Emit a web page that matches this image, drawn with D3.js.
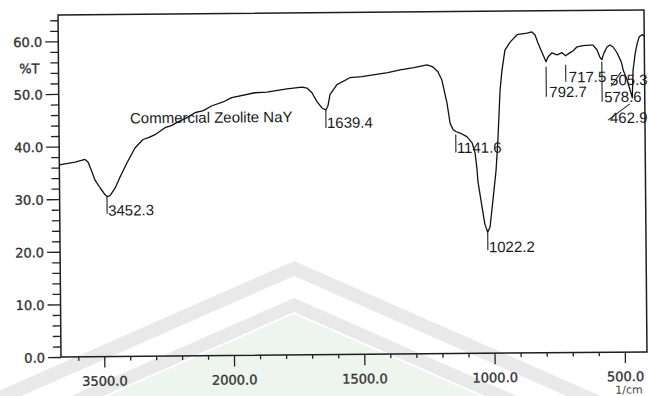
<!DOCTYPE html>
<html>
<head>
<meta charset="utf-8">
<script src="https://cdn.jsdelivr.net/npm/d3@7"></script>
<style>
  html, body { margin: 0; padding: 0; background: #fff; }
  svg { display: block; }
</style>
</head>
<body>
<svg id="chart" width="649" height="396"></svg>
<script>
// FTIR transmittance spectrum of commercial zeolite NaY (Shimadzu-style printout)

// Wavenumbers (1/cm), high to low
const wavenumber = [
  4000, 3900, 3818, 3703, 3668, 3623, 3590, 3532, 3475, 3452.3, 3417, 3358, 3299, 3217,
  3124, 3030, 2960, 2891, 2775, 2700, 2624, 2530, 2427, 2330, 2229, 2100, 2000,
  1911, 1865, 1788, 1730, 1711, 1692, 1673, 1654, 1639.4, 1631, 1623, 1596, 1546,
  1500, 1457, 1400, 1353, 1300, 1250, 1227, 1208, 1193, 1174, 1163, 1152, 1141.6,
  1125, 1099, 1079, 1068, 1061, 1058, 1043, 1033, 1022.2, 1013, 1001, 988, 980, 974,
  970, 962, 950, 930, 903, 865, 846, 834, 823, 807, 792.7, 785, 770, 750, 731, 717.5,
  700, 689, 673, 650, 624, 612, 597, 586, 578.6, 570, 558, 547, 535, 520, 505.3, 501,
  497, 482, 471, 462.9, 459, 450, 442, 434, 423, 415
];

// Transmittance (%T) at each wavenumber
const transmittance = [
  36.5, 36.8, 37.0, 37.5, 37.0, 35.1, 33.6, 32.1, 30.8, 30.4, 30.6, 32.0, 34.1, 36.8,
  39.6, 41.2, 41.6, 42.1, 43.4, 43.8, 44.5, 45.2, 46.2, 46.6, 47.5, 48.2, 49.0,
  49.9, 50.0, 50.6, 50.9, 50.7, 49.8, 48.1, 46.9, 46.5, 47.3, 49.4, 51.3, 52.6,
  52.8, 53.1, 53.5, 54.0, 54.4, 54.9, 54.5, 53.6, 52.0, 47.6, 43.8, 42.6, 42.2,
  41.9, 41.2, 40.0, 38.1, 34.9, 32.7, 27.8, 24.6, 23.0, 24.0, 29.1, 34.8, 40.5, 46.2,
  50.0, 53.8, 57.6, 59.1, 60.5, 60.8, 61.0, 60.4, 58.9, 57.0, 55.3, 56.2, 57.0, 56.6, 57.0, 56.4,
  57.0, 57.3, 58.1, 58.3, 58.4, 58.4, 57.5, 56.1, 55.6, 56.9, 58.0, 58.4, 58.0, 56.9, 55.3, 54.6,
  53.6, 51.7, 49.8, 48.3, 53.6, 56.8, 58.7, 59.9, 60.3, 60.0
];

// Picked peaks
const peakWavenumbers = [3452.3, 1639.4, 1141.6, 1022.2, 792.7, 717.5, 578.6, 505.3, 462.9];
const peakLabels = ["3452.3", "1639.4", "1141.6", "1022.2", "792.7", "717.5", "578.6", "505.3", "462.9"];

// Axis ticks
const xMajorTicks = [3500, 2000, 1500, 1000, 500];
const xMinorTicks = [3800, 3200, 2900, 2600, 2300,
  1900, 1800, 1700, 1600, 1400, 1300, 1200, 1100, 900, 800, 700, 600];
const yMajorTicks = [0, 10, 20, 30, 40, 50, 60];
const yMinorTicks = [2, 4, 6, 8, 12, 14, 16, 18, 22, 24, 26, 28, 32, 34, 36, 38,
  42, 44, 46, 48, 52, 54, 56, 58, 62, 64];

const sampleName = "Commercial Zeolite NaY";
const yAxisTitle = "%T";
const xAxisUnit = "1/cm";

// ---- layout ----
const plotLeft = 61, plotRight = 647, plotTop = 15, plotBottom = 357;
const tickFont = "'DejaVu Sans', sans-serif";
const labelFont = "'Liberation Sans', Arial, sans-serif";

// Wavenumber axis: 4000-2000 region drawn at compressed scale
const x = d3.scaleLinear().domain([4000, 2000, 415]).range([plotLeft, 234, plotRight]);
const y = d3.scaleLinear().domain([0, 65]).range([plotBottom, plotTop]);

const svg = d3.select("#chart");

// faint letterhead watermark behind the printout
const wm = svg.append("g");
const cx = 294, slope = 0.44;
function chevron(apexY, thick) {
  const l = -60, r = 720;
  return [
    [l, apexY + slope * (cx - l)], [cx, apexY], [r, apexY + slope * (r - cx)],
    [r, apexY + thick + slope * (r - cx)], [cx, apexY + thick], [l, apexY + thick + slope * (cx - l)]
  ];
}
wm.append("polygon")
  .attr("points", [[-60, 314 + slope * (cx + 60)], [cx, 314], [720, 314 + slope * (720 - cx)], [720, 500], [-60, 500]].join(" "))
  .attr("fill", "#eef5ee");
wm.append("polygon").attr("points", chevron(261, 15).join(" ")).attr("fill", "#e8e9e8");
wm.append("polygon").attr("points", chevron(298, 14).join(" ")).attr("fill", "#e8e9e8");

// printed chart (scan sits slightly tilted on the page)
const g = svg.append("g").attr("transform", `rotate(-0.5 ${plotLeft} ${plotBottom})`);

// plot frame
g.append("rect")
  .attr("x", plotLeft).attr("y", plotTop)
  .attr("width", plotRight - plotLeft).attr("height", plotBottom - plotTop)
  .attr("fill", "none").attr("stroke", "#1e1e1e").attr("stroke-width", 1.5);

// x axis: major ticks with labels, minor ticks
const fmt = d3.format(".1f");
const xAxisMajor = g.append("g").attr("transform", `translate(0,${plotBottom})`)
  .call(d3.axisBottom(x).tickValues(xMajorTicks).tickSize(11).tickFormat(fmt));
const xAxisMinor = g.append("g").attr("transform", `translate(0,${plotBottom})`)
  .call(d3.axisBottom(x).tickValues(xMinorTicks).tickSize(4).tickFormat(""));

// y axis
const yAxisMajor = g.append("g").attr("transform", `translate(${plotLeft},0)`)
  .call(d3.axisLeft(y).tickValues(yMajorTicks).tickSize(13).tickFormat(fmt));
const yAxisMinor = g.append("g").attr("transform", `translate(${plotLeft},0)`)
  .call(d3.axisLeft(y).tickValues(yMinorTicks).tickSize(8).tickFormat(""));

[xAxisMajor, xAxisMinor, yAxisMajor, yAxisMinor].forEach(a => {
  a.select(".domain").remove();
  a.selectAll(".tick line").attr("stroke", "#222").attr("stroke-width", 1.3);
  a.selectAll("text")
    .attr("font-family", tickFont).attr("font-size", 13)
    .attr("fill", "#333").attr("stroke", "#333").attr("stroke-width", 0.35);
});
xAxisMajor.selectAll("text").attr("y", 29).attr("dy", null);
yAxisMajor.selectAll("text").attr("x", -16).attr("dy", "0.37em");

// axis titles
g.append("text").attr("x", 42).attr("y", 73)
  .attr("text-anchor", "end")
  .attr("font-family", tickFont).attr("font-size", 13)
  .attr("fill", "#333").attr("stroke", "#333").attr("stroke-width", 0.35)
  .text(yAxisTitle);
g.append("text").attr("x", 615).attr("y", 398.5)
  .attr("font-family", tickFont).attr("font-size", 11)
  .attr("fill", "#444")
  .text(xAxisUnit);

// spectrum
const points = wavenumber.map((w, i) => [w, transmittance[i]]);
const line = d3.line().x(d => x(d[0])).y(d => y(d[1])).curve(d3.curveLinear);
g.append("path")
  .datum(points)
  .attr("d", line)
  .attr("fill", "none")
  .attr("stroke", "#111")
  .attr("stroke-width", 1.3)
  .attr("stroke-linejoin", "round");

// sample name
g.append("text").attr("x", 132).attr("y", 124)
  .attr("font-family", labelFont).attr("font-size", 15)
  .attr("fill", "#1a1a1a")
  .text(sampleName);

// peak markers: vertical tick under the peak, label beside it;
// the two crowded low-wavenumber peaks get slanted leaders
const peakStyle = [
  { top: 0, len: 17, dx: 1, dy: 19 },
  { top: 0, len: 18, dx: 1, dy: 18 },
  { top: 3, len: 18, dx: 1, dy: 21.5 },
  { top: 0, len: 18, dx: 1, dy: 20 },
  { top: 5, len: 30, dx: 3, dy: 35.5 },
  { top: 9, len: 17, dx: 3, dy: 26.5 },
  { top: 2, len: 40, dx: 2, dy: 42.5 },
  { slant: [0, 11, -10, 25], dx: -11, dy: 24 },
  { slant: [-2.5, 6, -24.5, 22], dx: -22.5, dy: 25 }
];
const transAt = w => transmittance[wavenumber.indexOf(w)];

const peaks = g.append("g");
peakWavenumbers.forEach((w, i) => {
  const px = x(w), py = y(transAt(w)), s = peakStyle[i];
  if (s.slant) {
    peaks.append("line")
      .attr("x1", px + s.slant[0]).attr("y1", py + s.slant[1])
      .attr("x2", px + s.slant[2]).attr("y2", py + s.slant[3])
      .attr("stroke", "#222").attr("stroke-width", 1);
  } else {
    peaks.append("line")
      .attr("x1", px).attr("y1", py + s.top)
      .attr("x2", px).attr("y2", py + s.top + s.len)
      .attr("stroke", "#222").attr("stroke-width", 1.1);
  }
  peaks.append("text")
    .attr("x", px + s.dx).attr("y", py + s.dy)
    .attr("font-family", labelFont).attr("font-size", 15)
    .attr("fill", "#1a1a1a")
    .text(peakLabels[i]);
});
</script>
</body>
</html>
